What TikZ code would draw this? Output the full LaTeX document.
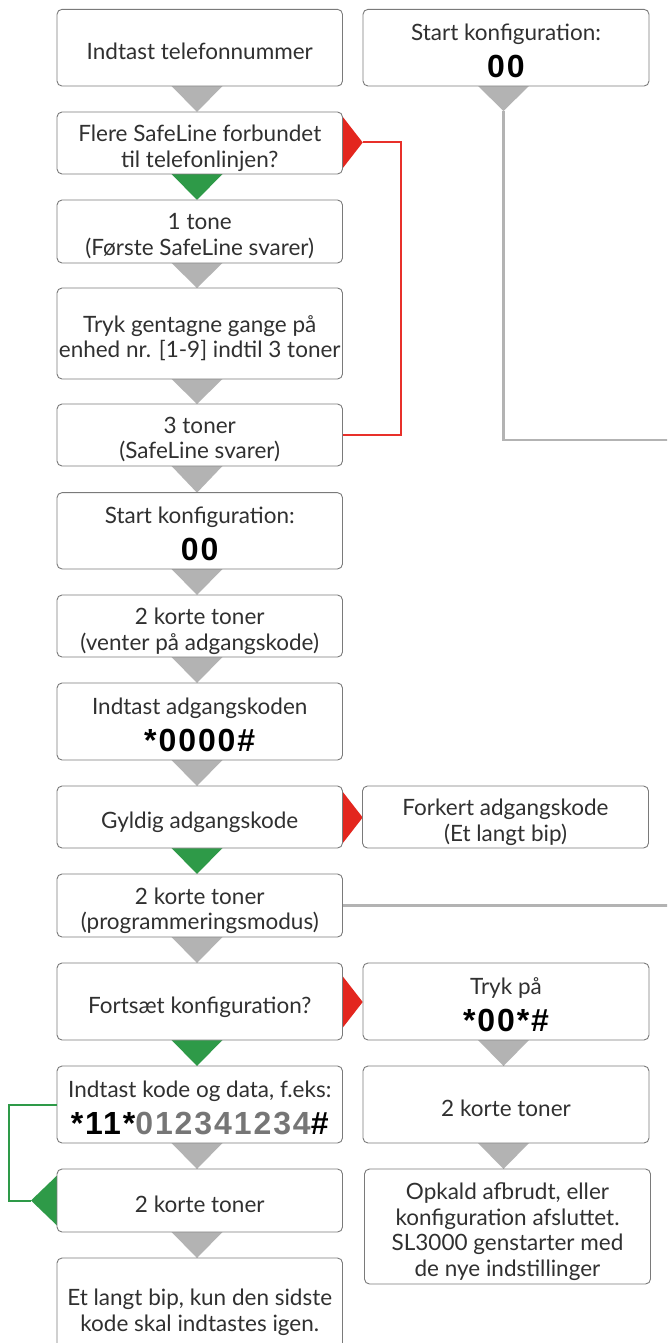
\documentclass[tikz,border=0pt]{standalone}
\usepackage{fontspec}
\setmainfont{Lato}
\newfontfamily\codefont[LetterSpace=6]{Liberation Sans}
\usetikzlibrary{calc}
\definecolor{boxline}{HTML}{7A7A7A}
\definecolor{txt}{HTML}{303030}
\definecolor{tgray}{HTML}{B3B3B3}
\definecolor{tgreen}{HTML}{2E9A48}
\definecolor{tred}{HTML}{E3261E}
\definecolor{lred}{HTML}{E8302A}
\definecolor{codegray}{HTML}{767676}
\newcommand\bigcode[1]{{\fontsize{32}{34}\selectfont\codefont\bfseries\color{black}#1}}
\newcommand\mystrut{\rule[-6pt]{0pt}{23pt}}
\newcommand\dtri[4]{\fill[#1] (#2-25.5,#3) -- (#2+25.5,#3) -- (#2,#4) -- cycle;}
\newcommand\rtri[2]{\fill[#1] (342.5,#2-26) -- (362.7,#2) -- (342.5,#2+26) -- cycle;}
% #1 name, #2 style, #3 x, #4 y, #5 height, #6 text
\newcommand\stepnode[6]{%
  \node[#2, minimum height=#5] (#1) at (#3,#4) {};
  \node[boxtext] (#1-t) at ($(#1.center)+(0,6)$) {#6};}
\begin{document}
\begin{tikzpicture}[x=1pt,y=-1pt,
  stepbox/.style={draw=boxline, line width=0.9pt, rounded corners=5pt, fill=white,
    inner sep=0pt, minimum width=285.5pt},
  rightbox/.style={stepbox, minimum width=286pt},
  boxtext/.style={text=txt, align=center, inner sep=0pt,
    font=\fontsize{22.5}{25.5}\selectfont,
    execute at begin node=\mystrut, execute at end node=\mystrut},
  redline/.style={draw=lred, line width=2pt},
  grayline/.style={draw=tgray, line width=2.5pt},
  greenline/.style={draw=tgreen, line width=2pt}]
\useasboundingbox (0,0) rectangle (667,1343);
\clip (0,0) rectangle (667,1343);
\fill[white] (0,0) rectangle (667,1343);

% triangles (drawn under the boxes)
\dtri{tgray}{197}{86}{112}
\dtri{tgreen}{197}{174}{200}
\dtri{tgray}{197}{263}{288}
\dtri{tgray}{197}{379}{404}
\dtri{tgray}{197}{466}{492.7}
\dtri{tgray}{197}{569}{595}
\dtri{tgray}{197}{657}{683}
\dtri{tgray}{197}{760}{786}
\dtri{tgreen}{197}{848}{874}
\dtri{tgray}{197}{937}{963}
\dtri{tgreen}{197}{1040}{1066}
\dtri{tgray}{197}{1143}{1169}
\dtri{tgray}{197}{1232}{1258}
\dtri{tgray}{503.5}{86}{111}
\dtri{tgray}{503.5}{1040}{1066}
\dtri{tgray}{503.5}{1143}{1169}
\rtri{tred}{142.5}
\rtri{tred}{817.5}
\rtri{tred}{1002}
\fill[tgreen] (57,1175.5) -- (31,1200.5) -- (57,1225.5) -- cycle;

% left column
\stepnode{L1}{stepbox}{199.75}{47.7}{76.7pt}{Indtast telefonnummer}
\stepnode{L2}{stepbox}{199.75}{143}{62pt}{Flere SafeLine forbundet\\til telefonlinjen?}
\stepnode{L3}{stepbox}{199.75}{231.5}{63pt}{1 tone\\(Første SafeLine svarer)}
\stepnode{L4}{stepbox}{199.75}{333.5}{91pt}{Tryk gentagne gange på\\enhed nr. [1-9] indtil 3 toner}
\stepnode{L5}{stepbox}{199.75}{435}{62pt}{3 toner\\(SafeLine svarer)}
\stepnode{L6}{stepbox}{199.75}{530.8}{76.3pt}{Start konfiguration:\\[9.5pt]\bigcode{00}}
\stepnode{L7}{stepbox}{199.75}{626}{62pt}{2 korte toner\\(venter på adgangskode)}
\stepnode{L8}{stepbox}{199.75}{721.5}{77pt}{Indtast adgangskoden\\[9.5pt]\bigcode{*0000\#}}
\stepnode{L9}{stepbox}{199.75}{817}{62pt}{Gyldig adgangskode}
\stepnode{L10}{stepbox}{199.75}{905.5}{63pt}{2 korte toner\\(programmeringsmodus)}
\stepnode{L11}{stepbox}{199.75}{1001.5}{77pt}{Fortsæt konfiguration?}
\stepnode{L12}{stepbox}{199.75}{1104.5}{77pt}{Indtast kode og data, f.eks:\\[9.5pt]\bigcode{*11*\textcolor{codegray}{012341234}\#}}
\stepnode{L13}{stepbox}{199.75}{1200.5}{63pt}{2 korte toner}
\stepnode{L14}{stepbox}{199.75}{1307}{98pt}{Et langt bip, kun den sidste\\kode skal indtastes igen.}

% right column
\stepnode{R1}{rightbox}{506}{47.7}{76.7pt}{Start konfiguration:\\[9.5pt]\bigcode{00}}
\stepnode{R9}{rightbox}{505.5}{817}{62pt}{Forkert adgangskode\\(Et langt bip)}
\stepnode{R11}{rightbox}{506}{1001.5}{77pt}{Tryk på\\[9.5pt]\bigcode{*00*\#}}
\stepnode{R12}{rightbox}{506}{1104.5}{77pt}{2 korte toner}
\stepnode{R13}{rightbox}{507.5}{1226.5}{115pt}{Opkald afbrudt, eller\\konfiguration afsluttet.\\SL3000 genstarter med\\de nye indstillinger}

% connectors
\coordinate (redtip) at (362.7,142.5);
\coordinate (redturn) at (401,142.5);
\draw[redline] (redtip) -- (redturn) |- (L5.east);
\coordinate (graytip) at (503.5,111);
\coordinate (grayend1) at (672,440);
\draw[grayline] (graytip) |- (grayend1);
\coordinate (grayend2) at (672,905.5);
\draw[grayline] (L10.east) -- (grayend2);
\coordinate (greencorner) at (9.4,1104.5);
\coordinate (greentip) at (31,1200.5);
\draw[greenline] (L12.west) -- (greencorner) |- (greentip);
\end{tikzpicture}
\end{document}
